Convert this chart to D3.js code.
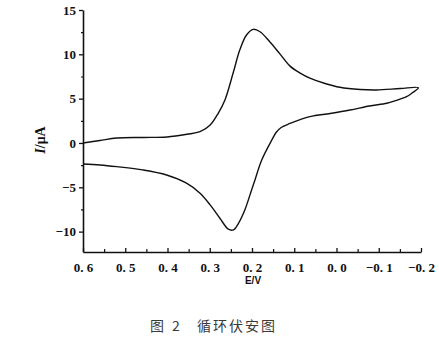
<!DOCTYPE html>
<html><head><meta charset="utf-8">
<script src="https://cdn.jsdelivr.net/npm/d3@7"></script>
<style>body{margin:0;background:#fff}svg{display:block}</style>
</head><body>
<svg id="c" width="439" height="348"></svg>
<script>
// Forward (upper) branch: potential E (V) and current I (µA)
const forwardE = [0.600,0.560,0.520,0.458,0.401,0.354,0.323,0.299,0.280,0.264,0.244,0.229,0.213,0.197,0.181,0.158,0.134,0.110,0.086,0.063,0.027,-0.008,-0.056,-0.095,-0.151,-0.194];
const forwardI = [0.00,0.28,0.56,0.62,0.68,0.98,1.27,2.03,3.35,4.85,8.00,10.48,12.18,12.82,12.55,11.42,10.05,8.67,7.89,7.32,6.71,6.28,6.03,5.98,6.14,6.23];
// Reverse (lower) branch
const reverseE = [-0.179,-0.166,-0.138,-0.119,-0.078,-0.032,0.015,0.063,0.110,0.131,0.143,0.153,0.177,0.193,0.201,0.217,0.232,0.244,0.256,0.276,0.299,0.323,0.355,0.402,0.458,0.520,0.560,0.600];
const reverseI = [5.64,5.22,4.74,4.48,4.17,3.72,3.33,2.97,2.20,1.75,1.18,0.34,-1.92,-4.17,-5.30,-7.56,-9.06,-9.81,-9.73,-8.49,-6.99,-5.67,-4.54,-3.61,-3.04,-2.67,-2.48,-2.37];

const xTicks = [0.6,0.5,0.4,0.3,0.2,0.1,0.0,-0.1,-0.2];
const xTickLabels = ["0. 6","0. 5","0. 4","0. 3","0. 2","0. 1","0. 0","\u22120. 1","\u22120. 2"];
const xMinorTicks = [0.55,0.45,0.35,0.25,0.15,0.05,-0.05,-0.15];
const yTicks = [15,10,5,0,-5,-10];
const yMinorTicks = [12.5,7.5,2.5,-2.5,-7.5];

const svg = d3.select("#c");
const x = d3.scaleLinear().domain([0.6,-0.2]).range([83,421]);
const y = d3.scaleLinear().domain([-12.3,15]).range([252,10]);

const pts = forwardE.map((e,i)=>[e,forwardI[i]]).concat(reverseE.map((e,i)=>[e,reverseI[i]]));
svg.append("path").datum(pts)
  .attr("d", d3.line().x(d=>x(d[0])).y(d=>y(d[1])).curve(d3.curveCatmullRom.alpha(0.5)))
  .attr("fill","none").attr("stroke","#111").attr("stroke-width",1.4);

const serif = "'Liberation Serif','DejaVu Serif',serif";

// X axis
const xAxis = d3.axisBottom(x).tickValues(xTicks).tickSize(-4).tickFormat((d,i)=>xTickLabels[i]).tickSizeOuter(0);
const gx = svg.append("g").attr("transform","translate(0,252)").call(xAxis);
gx.select(".domain").attr("stroke","#111").attr("stroke-width",1.6);
gx.selectAll(".tick line").attr("stroke","#111").attr("stroke-width",1.3);
gx.selectAll(".tick text").attr("font-family",serif).attr("font-weight","bold").attr("font-size",13).attr("fill","#111").attr("dy","1.0em").attr("y",7);
svg.append("g").attr("transform","translate(0,252)")
  .call(d3.axisBottom(x).tickValues(xMinorTicks).tickSize(-3).tickFormat("").tickSizeOuter(0))
  .call(g=>{g.select(".domain").remove();g.selectAll("line").attr("stroke","#111").attr("stroke-width",1.2);});

// Y axis
const yAxis = d3.axisLeft(y).tickValues(yTicks).tickSize(4).tickFormat(d=>d<0?"\u2212"+Math.abs(d):d).tickSizeOuter(0);
const gy = svg.append("g").attr("transform","translate(83,0)").call(yAxis);
gy.select(".domain").attr("stroke","#111").attr("stroke-width",1.6);
gy.selectAll(".tick line").attr("stroke","#111").attr("stroke-width",1.3);
gy.selectAll(".tick text").attr("font-family",serif).attr("font-weight","bold").attr("font-size",13).attr("fill","#111").attr("x",-7);
svg.append("g").attr("transform","translate(83,0)")
  .call(d3.axisLeft(y).tickValues(yMinorTicks).tickSize(2).tickFormat("").tickSizeOuter(0))
  .call(g=>{g.select(".domain").remove();g.selectAll("line").attr("stroke","#111").attr("stroke-width",1.2);});

// Axis titles
svg.append("text").attr("x",253).attr("y",284).attr("text-anchor","middle")
  .attr("font-family","'Liberation Sans',Arial,sans-serif").attr("font-weight","bold").attr("font-size",10).attr("fill","#111").text("E/V");
const yl = svg.append("text").attr("transform","translate(45,140) rotate(-90)").attr("text-anchor","middle")
  .attr("font-family",serif).attr("font-weight","bold").attr("font-size",14).attr("fill","#111");
yl.append("tspan").attr("font-style","italic").text("I");
yl.append("tspan").text("/\u03bcA");

// Caption
const cap = svg.append("g").attr("font-family","'Noto Sans CJK SC',sans-serif").attr("font-size",14).attr("fill","#3a3a3a");
cap.append("text").attr("x",150).attr("y",331).text("图");
cap.append("text").attr("x",172).attr("y",331).text("2");
cap.append("text").attr("x",197).attr("y",331).attr("letter-spacing",2).text("循环伏安图");
</script>
</body></html>
